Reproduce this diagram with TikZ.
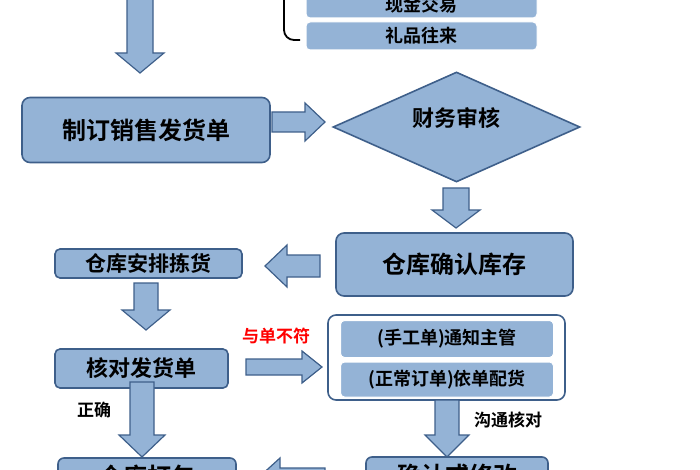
\documentclass[tikz,border=0pt]{standalone}
\usepackage{fontspec}
\setmainfont{Noto Sans CJK SC}[BoldFont={Noto Sans CJK SC Bold}]
\usetikzlibrary{shapes.geometric}
\definecolor{bf}{HTML}{94B3D6}
\definecolor{bd}{HTML}{3E5F8A}
\tikzset{
 box/.style={draw=bd,fill=bf,line width=1.6pt,rounded corners=8pt,font=\bfseries\fontsize{24}{24}\selectfont},
 sbox/.style={draw=white,fill=bf,line width=1pt,rounded corners=4pt,font=\bfseries\fontsize{18}{18}\selectfont},
 lab/.style={font=\bfseries\fontsize{17}{17}\selectfont},
 pics/ba/.style n args={4}{code={
   \draw[draw=bd,fill=bf,line width=1.2pt] (0,-#2) -- (#1-#4,-#2) -- (#1-#4,-#3) -- (#1,0) -- (#1-#4,#3) -- (#1-#4,#2) -- (0,#2) -- cycle;}}
}
\begin{document}
\begin{tikzpicture}[x=1pt,y=-1pt]
\useasboundingbox (0,0) rectangle (700,470);
\clip (0,0) rectangle (700,470);
% top
\pic[rotate=-90] (a0) at (140,-8) {ba={81}{13}{24}{20}};
\draw[line width=1.8pt,rounded corners=10pt] (300,-10) -- (284,-10) -- (284,40) -- (300,40);
\node[sbox,minimum width=231,minimum height=26] (xj) at (421.5,5) {\raisebox{-2pt}{现金交易}};
\node[sbox,minimum width=231,minimum height=28] (lp) at (421.5,36) {礼品往来};
% row 2
\node[box,minimum width=248,minimum height=65] (zd) at (146,130) {制订销售发货单};
\pic (a1) at (272,122) {ba={53}{10}{19}{20}};
\node[diamond,draw=bd,fill=bf,line width=1.6pt,minimum width=247,minimum height=110,inner sep=0pt] (cw) at (456.5,127) {};
\node[font=\bfseries\fontsize{22}{22}\selectfont] (cwt) at (456,118) {财务审核};
\pic[rotate=-90] (a2) at (456,188) {ba={40}{13}{24}{18}};
% row 3
\node[box,minimum width=237,minimum height=63] (qr) at (454.5,264.5) {仓库确认库存};
\node[box,rounded corners=5pt,minimum width=187,minimum height=29,font=\bfseries\fontsize{21}{21}\selectfont] (ap) at (148.5,263.5) {仓库安排拣货};
\pic[rotate=180] (a3) at (320,266) {ba={55}{11}{21}{22}};
\pic[rotate=-90] (a4) at (146,283) {ba={47}{12}{24}{20}};
% row 4
\node[lab,text=red] (bf1) at (276,336) {与单不符};
\node[box,rounded corners=5pt,minimum width=173,minimum height=39,font=\bfseries\fontsize{22}{22}\selectfont] (hd) at (141.5,368.5) {核对发货单};
\pic (a5) at (246,367) {ba={76}{8}{16}{20}};
\node[draw=bd,fill=white,line width=1.6pt,rounded corners=8pt,minimum width=237,minimum height=85] (grp) at (446.5,357.5) {};
\node[sbox,minimum width=213,minimum height=37] (sg) at (447,339) {(手工单)通知主管};
\node[sbox,minimum width=213,minimum height=35] (zc) at (447,379.5) {(正常订单)依单配货};
\node[lab] (gt) at (508,420) {沟通核对};
\pic[rotate=-90] (a6) at (447,400) {ba={57}{12}{22}{22}};
\node[lab] (zq) at (94,410) {正确};
\pic[rotate=-90] (a7) at (142,382) {ba={75}{12}{23}{22}};
% row 5
\node[box,rounded corners=6pt,minimum width=178,minimum height=40] (db) at (147,478) {\raisebox{6pt}{仓库打包}};
\pic[rotate=180] (a8) at (325,478) {ba={67}{10}{20}{22}};
\node[box,rounded corners=6pt,minimum width=182,minimum height=40] (xg) at (457,477) {\raisebox{6pt}{确认或修改}};
\end{tikzpicture}
\end{document}
